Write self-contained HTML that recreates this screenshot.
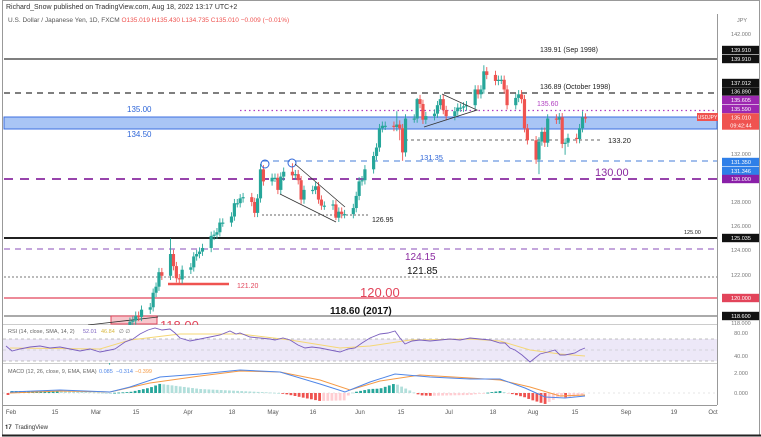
<!DOCTYPE html>
<html><head><meta charset="utf-8"><style>
html,body{margin:0;padding:0;background:#fff;}
svg{display:block;font-family:"Liberation Sans",sans-serif;}
</style></head><body>
<svg id="s" width="761" height="437" viewBox="0 0 761 437" xmlns="http://www.w3.org/2000/svg">
<rect x="0" y="0" width="761" height="437" fill="#fff"/>
<rect x="2.5" y="0.5" width="757" height="435" fill="none" stroke="#999" stroke-width="1"/>
<line x1="2" y1="435.5" x2="761" y2="435.5" stroke="#222" stroke-width="2"/>
<text x="6" y="9" font-size="7" fill="#333">Richard_Snow published on TradingView.com, Aug 18, 2022 13:17 UTC+2</text>
<text x="8" y="22" font-size="6.5" fill="#555">U.S. Dollar / Japanese Yen, 1D, FXCM <tspan fill="#ef5350">O135.019 H135.430 L134.735 C135.010 −0.009 (−0.01%)</tspan></text>
<g id="g"></g>
</svg>
<script>
var NS="http://www.w3.org/2000/svg",G=document.getElementById('g');
function el(t,a,txt){var e=document.createElementNS(NS,t);for(var k in a)e.setAttribute(k,a[k]);if(txt!==undefined)e.textContent=txt;G.appendChild(e);return e;}
function Y(p){return 179+(130-p)*12.1;}
function X(d){return 11+d*2.901;}
var R=717;
el('line',{x1:R+0.5,y1:14,x2:R+0.5,y2:405,stroke:'#999','stroke-width':1});
el('line',{x1:3,y1:324.5,x2:R,y2:324.5,stroke:'#ccc'});
el('line',{x1:3,y1:363.5,x2:R,y2:363.5,stroke:'#ccc'});
el('line',{x1:3,y1:405.5,x2:R,y2:405.5,stroke:'#999'});
el('rect',{x:4,y:117,width:R-4,height:12,fill:'#a9c5f5',stroke:'#3d6fe0','stroke-width':1});
function hl(y,x1,x2,c,w,da){el('line',{x1:x1,y1:y,x2:x2,y2:y,stroke:c,'stroke-width':w,'stroke-dasharray':da||'none'});}
hl(59,4,R,'#555',1.5);
hl(93,4,R,'#333',1.3,'6,5');
hl(110.5,240,R,'#b03fc0',1.3,'1.5,3');
hl(140,405,602,'#666',1,'3,3');
hl(161,262,R,'#6a96e0',1.2,'6,5');
hl(179,4,R,'#8a2aa0',1.8,'9,7');
hl(215,262,368,'#666',1,'2,2');
hl(238,4,R,'#000',1.8);
hl(249,4,R,'#a070c8',1.2,'6,5');
hl(277,4,R,'#777',1,'2,2');
hl(284,168,229,'#ef5350',2.5);
hl(298,4,R,'#e2445a',1.2);
hl(316,4,R,'#777',1.3);
function tx(x,y,s,c,t,b,a){el('text',{x:x,y:y,'font-size':s,fill:c,'font-weight':b?'bold':'normal','text-anchor':a||'start'},t);}
tx(540,52,7,'#222','139.91 (Sep 1998)',0);
tx(540,89,7,'#222','136.89 (October 1998)',0);
tx(537,106,7,'#b03fc0','135.60',0);
tx(127,112,8,'#2f66d8','135.00',0);
tx(127,137,8,'#2f66d8','134.50',0);
tx(608,143,7.5,'#222','133.20',0);
tx(420,160,7.5,'#2f66d8','131.35',0);
tx(595,176,11,'#8a2aa0','130.00',0);
tx(372,222,7,'#222','126.95',0);
tx(684,234,5.5,'#222','125.00',0);
tx(405,260,10,'#8a2aa0','124.15',0);
tx(407,274,10,'#111','121.85',0);
tx(237,288,7,'#e2445a','121.20',0);
tx(360,297,13,'#e2445a','120.00',0);
tx(330,314,10,'#111','118.60 (2017)',1);
el('rect',{x:111,y:316,width:46,height:8,fill:'#f7c6cc',stroke:'#e2445a','stroke-width':1});
el('line',{x1:88,y1:325,x2:158,y2:317,stroke:'#333','stroke-width':0.8});
el('text',{x:160,y:330,'font-size':13,fill:'#e2445a'},'118.00');
var D=[[34,115.3],[35,115.7],[36,115.9],[37,116.1],[38,117.3],[41,118.2],[42,118.3],[43,118.7],[44,118.6],[45,119.2],[48,119.4],[49,120.6],[50,121.1],[51,122.3],[52,122.0],[55,123.8,125.1],[56,122.8],[57,121.8],[58,121.7,0,121.3],
[59,122.5],[62,122.7],[63,123.6],[64,123.8],[65,124.0],[66,124.3],[69,125.3],[70,125.4],[71,125.6],[72,126.4],[73,126.4],[76,126.9],[77,128.0],[78,128.0],[79,128.4],[80,128.5],[83,128.1],[84,127.2],[85,128.4],[86,130.8,131.25],[87,129.8],
[90,130.1],[91,130.1],[92,129.1],[93,130.2],[94,130.6],[97,130.3,131.3],[98,130.4],[99,129.9],[100,128.3],[101,129.1],[104,129.1],[105,129.4],[106,128.3],[107,127.8],[108,127.8],[111,127.9],[112,126.8,0,126.6],[113,127.3],[114,127.1],[115,127.1],[118,127.6],[119,128.6],
[120,129.8],[121,129.9],[122,130.8],[125,131.9],[126,132.6],[127,134.2],[128,134.4],[129,134.4],[132,134.3],[133,134.5,135.6],[134,134.2,0,133.2],[135,132.2,0,131.5],[136,135.0],[139,135.0],[140,136.6,136.7],[141,136.2],[142,134.9],[143,135.2],[146,135.4],[147,136.1],[148,136.6],[149,135.7],
[150,135.2],[153,135.6],[154,135.9],[155,135.9],[156,136.0],[157,136.1],[160,137.4],[161,137.0],[162,137.4],[163,138.9,139.4],[164,138.6],[167,138.1],[168,138.2],[169,138.2],[170,137.4],[171,136.1],[174,136.7],[175,137.0],[176,136.6],[177,134.2],[178,133.2],
[181,131.6],[182,133.1,0,130.4],[183,133.9],[184,133.0],[185,135.0],[188,134.9],[189,135.1],[190,132.9],[191,133.0,0,132.0],[192,133.4],[195,133.3],[196,134.2],[197,135.1,135.6],[198,135.0,135.43]];
var prev=115.0;
for(var i=0;i<D.length;i++){var d=D[i],c=d[1],o=prev,hi=d[2]||Math.max(o,c)+0.35,lo=d[3]||Math.min(o,c)-0.35;
 var x=X(d[0]),col=c>=o?'#26a69a':'#ef5350';
 var yt=Y(Math.max(o,c)),yb=Y(Math.min(o,c));if(yb-yt<1.2)yb=yt+1.2;
 el('line',{x1:x,y1:Y(hi),x2:x,y2:Y(lo),stroke:col,'stroke-width':0.9});
 el('rect',{x:x-1.6,y:yt,width:3.2,height:yb-yt,fill:col});
 prev=c;}
el('rect',{x:3,y:325,width:R-3,height:38,fill:'#fff'});
el('circle',{cx:265,cy:164,r:4,fill:'none',stroke:'#2f66d8','stroke-width':1});
el('circle',{cx:292,cy:163,r:4,fill:'none',stroke:'#2f66d8','stroke-width':1});
el('polyline',{points:'295,164 345,207',fill:'none',stroke:'#333','stroke-width':0.8});
el('polyline',{points:'280,194 336,222',fill:'none',stroke:'#333','stroke-width':0.8});
el('polyline',{points:'424,127 477,110 442,94',fill:'none',stroke:'#333','stroke-width':0.8});
el('rect',{x:3,y:339,width:R-3,height:22,fill:'#ede8f8'});
hl(339,3,R,'#aaa',0.8,'3,3');hl(350,3,R,'#bbb',0.6,'3,3');hl(361,3,R,'#aaa',0.8,'3,3');
function pl(p,c,w){el('polyline',{points:p,fill:'none',stroke:c,'stroke-width':w});}
pl('10,348 100,349 130,340 180,334 240,334 290,340 340,348 370,346 410,340 470,339 500,341 530,350 560,354 585,356','#f5d776',1);
pl('6,346 12,351 20,349 30,347 40,346 50,348 60,347 70,349 80,351 90,349 100,352 110,350 115,349 125,342 133,339 140,334 148,330 155,328 162,330 170,329 175,333 180,338 190,341 200,339 210,337 220,335 230,331 236,334 240,333 250,337 260,338 270,339 275,340 283,338 290,340 298,345 305,348 312,347 320,348 330,350 340,352 348,349 355,348 362,343 370,338 380,334 388,333 395,331 400,338 405,344 412,341 420,340 430,341 440,340 450,339 460,340 470,338 480,339 490,340 500,343 505,343 510,348 515,350 522,355 530,362 535,358 540,354 548,352 555,350 560,355 565,355 570,354 575,353 580,350 585,348','#7a5fbf',0.9);
tx(8,333,5.5,'#666','RSI (14, close, SMA, 14, 2)  ',0);
tx(83,333,5.5,'#7a5fbf','52.01',0);tx(101,333,5.5,'#d8b840','46.84',0);tx(119,333,5.5,'#666','∅  ∅',0);
hl(393,3,R,'#ccc',0.6,'2,3');
var B=[[10,392],[60,390],[110,392],[130,387],[160,377],[200,374],[240,370],[280,372],[320,384],[345,392],[370,382],[395,374],[430,377],[470,379],[500,379],[525,388],[545,397],[565,398],[585,396]];
var O=[[10,393],[60,391],[110,392],[150,383],[200,376],[240,371],[280,372],[320,380],[350,390],[380,381],[420,375],[470,378],[500,380],[530,387],[560,396],[585,395]];
function interp(A,x){for(var i=0;i<A.length-1;i++){if(x>=A[i][0]&&x<=A[i+1][0]){var t=(x-A[i][0])/(A[i+1][0]-A[i][0]);return A[i][1]+t*(A[i+1][1]-A[i][1]);}}return A[A.length-1][1];}
var ph=0;
for(var x=8;x<=586;x+=4.1){var h=(interp(O,x)-interp(B,x))*2;var up=h>=0;var grow=Math.abs(h)>=Math.abs(ph);
 var col=up?(grow?'#26a69a':'#b2dfdb'):(grow?'#ef5350':'#ffcdd2');
 var y1=up?393-h:393,hh=Math.max(Math.abs(h),0.8);
 el('rect',{x:x-1.4,y:y1,width:2.8,height:hh,fill:col});ph=h;}
pl(O.map(function(p){return p.join(',')}).join(' '),'#f59a45',1);
pl(B.map(function(p){return p.join(',')}).join(' '),'#4f86e8',1);
tx(8,373,5.5,'#666','MACD (12, 26, close, 9, EMA, EMA)',0);
tx(99,373,5.5,'#4f86e8','0.085',0);tx(116,373,5.5,'#4f86e8','−0.314',0);tx(135,373,5.5,'#f59a45','−0.399',0);
var T=[['Feb',11],['15',55],['Mar',96],['15',136],['Apr',188],['18',232],['May',273],['16',313],['Jun',360],['15',401],['Jul',449],['18',493],['Aug',533],['15',575],['Sep',626],['19',674],['Oct',713]];
T.forEach(function(t){tx(t[1],414,6,'#555',t[0],0,'middle');});
tx(5,429,6,'#222','𝟏𝟕',0);tx(15,429,6,'#333','TradingView',0);
function ax(y,t,c){tx(741,y+2,5.5,c||'#777',t,0,'middle');}
function bx(y,t,bg){el('rect',{x:722,y:y-4.2,width:37,height:8.4,fill:bg});tx(741,y+2,5.5,'#fff',t,0,'middle');}
tx(737,22,5.5,'#777','JPY',0);
ax(34,'142.000');ax(154,'132.000');ax(202,'128.000');ax(226,'126.000');ax(250,'124.000');ax(275,'122.000');ax(323,'118.000');
ax(333,'80.00');ax(356,'40.00');ax(373,'2.000');ax(393,'0.000');
bx(50,'139.910','#111');bx(59,'139.910','#111');bx(83,'137.012','#111');bx(91.5,'136.890','#111');
bx(100,'135.605','#9c27b0');bx(109,'135.590','#9c27b0');bx(117.5,'135.010','#ef5350');bx(125.5,'09:42:44','#ef5350');
bx(162,'131.350','#2f7fe8');bx(171,'131.346','#2f7fe8');bx(179,'130.000','#8a1fa8');
bx(238,'125.035','#111');bx(298,'120.000','#e2445a');bx(316,'118.600','#111');
el('rect',{x:697,y:113,width:21,height:8,fill:'#ef5350'});tx(707.5,119,5,'#fff','USDJPY',0,'middle');
</script>
</body></html>
